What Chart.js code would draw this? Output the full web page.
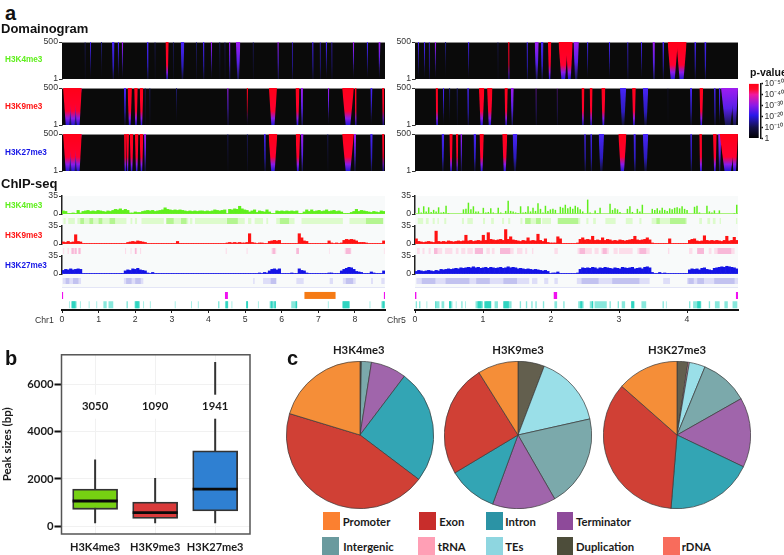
<!DOCTYPE html>
<html>
<head>
<meta charset="utf-8">
<title>Histone marks on chromosomes 1 and 5</title>
<script src="https://cdn.jsdelivr.net/npm/chart.js"></script>
<style>
    body { margin: 0; background: #fff; }
    #page { position: relative; width: 784px; height: 555px; overflow: hidden; }
    #page canvas { position: absolute; }
    .txt { position: absolute; white-space: nowrap; line-height: 1; transform: translateY(-50%); }
    .head { font: bold 13px "Liberation Sans"; color: #111; }
    .letter { font: bold 20px "Liberation Sans"; color: #111; }
    .track { font: bold 8.2px "Liberation Sans"; }
    .chr { font: 8.7px "Liberation Sans"; color: #333; }
    .cal { font: bold 11.3px Lato; color: #1A1A1A; }
    .swatch { position: absolute; width: 16.5px; height: 17.5px; }
</style>
</head>
<body>
<div id="page"></div>
<script>
// Genome axes, in Mb
const chr1Max = 8.82;
const chr5Max = 4.75;
const k4Color = '#5FEF1C';
const k9Color = '#FF1212';
const k27Color = '#1414E6';

// Domainogram streaks: [position Mb, width Mb, strength 1-4]
const domK4Chr1 = [[.63,.03,1],[.78,.03,2],[1.08,.03,1],[1.40,.07,2],[1.54,.04,2],[1.65,.04,3],[2.34,.05,2],[2.54,.03,1],[2.87,.09,4],[3.04,.03,1],[3.29,.1,2],[3.67,.03,1],[3.87,.04,2],[4.08,.04,3],[4.31,.03,1],[4.45,.03,1],[4.58,.04,3],[4.81,.12,3],[5.22,.03,1],[5.90,.04,3],[6.29,.03,2],[6.85,.04,2],[7.05,.03,2],[7.22,.04,2],[7.37,.03,2],[7.96,.04,3],[8.34,.04,2],[8.67,.06,3]];
const domK9Chr1 = [[.29,.5,3],[.15,.24,4],[.30,.22,4],[.44,.2,4],[1.72,.06,2],[1.85,.12,4],[2.02,.1,4],[2.17,.1,4],[2.27,.03,1],[2.4,.03,1],[3.13,.03,1],[4.53,.04,3],[5.06,.04,4],[5.76,.22,4],[6.43,.11,4],[6.55,.06,3],[7.28,.04,3],[7.81,.32,4],[8.02,.05,4],[8.45,.06,2],[8.77,.06,4]];
const domK27Chr1 = [[.29,.5,3],[.15,.24,4],[.30,.22,4],[.44,.2,4],[1.72,.05,4],[1.79,.08,4],[1.9,.1,4],[2.04,.1,4],[2.17,.1,4],[2.27,.06,3],[4.53,.03,1],[5.06,.03,1],[5.54,.05,2],[5.76,.24,4],[6.44,.12,4],[6.56,.07,3],[7.26,.03,1],[7.81,.32,4],[8.0,.06,3],[8.45,.07,2],[8.77,.06,4]];
const domK4Chr5 = [[.05,.018,2],[.14,.02,2],[.21,.018,2],[.30,.02,3],[.45,.018,1],[.79,.02,2],[1.22,.015,1],[1.38,.022,4],[1.65,.02,2],[1.79,.06,3],[1.87,.04,2],[1.98,.05,4],[2.18,.14,4],[2.27,.1,4],[2.37,.08,3],[2.54,.02,2],[2.86,.02,2],[3.13,.018,2],[3.33,.018,2],[3.51,.035,3],[3.65,.025,2],[3.79,.15,4],[3.92,.15,4],[4.12,.025,2],[4.27,.03,2]];
const domK9Chr5 = [[.32,.035,4],[.42,.02,2],[.51,.018,1],[.62,.018,1],[.78,.025,2],[.98,.08,4],[1.10,.08,4],[1.34,.05,4],[1.43,.045,3],[1.78,.015,3],[2.09,.012,3],[2.47,.045,4],[2.59,.045,4],[2.77,.06,4],[3.06,.09,2],[3.22,.055,4],[3.39,.08,2],[3.72,.01,1],[4.06,.03,2],[4.21,.055,4],[4.41,.025,2],[4.48,.025,2],[4.60,.2,3],[4.70,.1,3]];
const domK27Chr5 = [[.41,.04,2],[.53,.05,4],[.62,.035,4],[.68,.025,3],[.88,.04,2],[.98,.065,4],[1.32,.075,4],[1.47,.07,2],[2.5,.025,2],[2.59,.025,2],[2.74,.08,2],[3.05,.12,4],[3.23,.035,2],[3.39,.08,2],[4.06,.025,2],[4.2,.04,4],[4.41,.055,4],[4.48,.045,3],[4.6,.24,4],[4.7,.1,4]];

// ChIP-seq coverage, 130 equal bins along each chromosome
const covK4Chr1 = [
    6,5,1,1,2,1,7,2,5,6, 7,5,6,5,7,6,5,4,6,5, 7,9,8,10,7,9,7,2,2,4,
    3,3,5,6,7,6,7,5,6,7, 8,12,9,8,7,8,7,8,7,6, 5,6,5,6,5,6,6,5,6,5,
    6,8,7,6,7,8,0,9,8,10, 9,15,10,8,7,4,6,8,3,6, 5,4,8,4,1,1,6,5,6,5,
    6,5,6,5,6,1,1,4,8,5, 8,5,6,7,5,6,8,5,6,7, 5,6,4,1,1,1,3,5,9,5,
    7,6,5,4,3,5,4,3,6,5];
const covK9Chr1 = [
    4,3,5,3,4,18,5,4,1,1, 1,1,1,1,1,1,1,1,1,1, 1,1,1,1,1,1,3,4,5,4,
    6,5,4,3,1,1,1,1,1,1, 1,1,1,1,1,1,5,1,1,1, 1,1,1,1,1,1,1,1,1,1,
    1,1,1,1,1,1,2,3,2,3, 2,3,2,2,3,20,3,2,1,2, 2,1,1,5,6,7,6,7,1,1,
    1,1,1,1,1,20,12,6,5,1, 1,1,1,1,1,1,1,6,2,1, 2,1,2,7,9,8,9,8,6,3,
    3,3,2,1,1,1,1,1,1,6];
const covK27Chr1 = [
    7,9,8,10,8,9,10,9,1,1, 1,1,1,1,1,1,1,1,1,1, 1,1,1,1,1,6,8,7,10,9,
    11,8,7,6,2,1,3,1,1,1, 1,1,1,1,1,1,1,1,1,1, 1,1,1,1,1,1,1,1,1,1,
    1,1,1,1,1,1,1,1,1,1, 1,1,1,1,1,1,1,1,1,2, 1,3,2,6,9,10,8,10,1,1,
    1,1,2,1,1,10,7,6,2,1, 1,1,1,1,1,1,1,2,2,1, 1,1,6,9,11,13,12,9,5,4,
    3,1,1,1,4,2,1,1,1,6];
const covK4Chr5 = [
    1,12,3,15,5,13,4,8,5,13, 3,4,16,2,1,1,1,1,1,9, 10,22,9,15,5,5,1,12,3,4,
    11,3,1,12,3,1,6,26,6,5, 3,2,15,3,4,15,5,12,6,21, 10,3,16,6,9,10,8,0,14,12,
    18,11,14,10,16,13,9,5,1,28, 3,1,7,2,12,1,1,1,20,8, 11,9,4,1,1,10,15,4,1,10,
    5,18,1,1,1,10,8,11,7,12, 8,6,11,9,12,13,11,15,10,8, 1,1,14,16,3,1,1,16,5,3,
    7,1,7,1,1,1,1,1,2,18];
const covK9Chr5 = [
    10,5,4,3,4,5,4,3,25,5, 4,5,4,6,5,4,5,6,5,6, 17,6,7,5,6,7,6,17,7,22,
    9,8,7,8,9,7,28,9,14,8, 7,6,5,7,6,12,6,7,6,19, 7,5,10,3,2,2,2,14,10,1,
    1,1,1,1,1,2,9,12,8,9, 8,15,7,8,7,12,7,9,8,6, 7,6,8,7,6,7,8,9,15,8,
    7,8,9,12,8,2,1,1,1,1, 1,1,10,1,1,1,1,1,1,1, 7,9,10,6,5,6,16,7,6,7,
    6,7,6,5,7,15,6,7,13,7];
const covK27Chr5 = [
    5,7,6,5,6,7,6,5,7,6, 9,8,9,10,9,10,11,10,12,11, 12,13,12,14,12,13,11,12,13,11,
    13,12,11,12,13,11,12,14,12,13, 12,10,11,10,9,10,9,8,9,8, 7,6,7,5,1,2,2,4,1,1,
    1,1,1,1,1,2,9,12,11,12, 11,13,12,10,12,11,13,12,11,10, 12,11,10,13,12,11,12,13,10,11,
    12,10,13,14,12,3,1,1,3,1, 2,1,1,1,1,1,1,1,1,1, 8,10,9,10,8,11,12,9,8,7,
    11,12,13,14,13,15,14,13,12,10];

// Called peaks, [start, end] in Mb
const peaksK4Chr1 = [[.04,.1],[.17,.35],[.42,1.76],[1.87,1.92],[1.99,2.05],[2.17,2.78],[2.85,3.45],[3.49,3.56],[3.63,4.49],[4.54,4.99],[5.08,5.17],[5.26,5.49],[5.58,5.63],[5.85,6.35],[6.54,7.67],[7.85,8.77]];
const peaksK9Chr1 = [[.03,.06],[.15,.19],[.26,.40],[.45,.52],[1.72,1.75],[1.87,1.9],[1.99,2.05],[2.13,2.16],[4.47,4.5],[5.04,5.07],[5.72,5.85],[6.4,6.47],[7.29,7.31],[7.72,7.9],[8.79,8.81]];
const peaksK27Chr1 = [[.02,.52],[1.69,2.22],[5.22,5.26],[5.49,5.85],[6.4,6.6],[7.31,7.4],[7.67,8.02],[8.44,8.49],[8.72,8.81]];
const peaksK4Chr5 = [[.04,.12],[.16,.2],[.26,.29],[.33,.35],[.43,.46],[.69,.72],[.77,.85],[1.0,1.03],[1.12,1.16],[1.28,1.31],[1.37,1.4],[1.55,1.58],[1.62,1.85],[1.87,2.0],[2.1,2.43],[2.52,2.55],[2.62,2.66],[2.8,2.95],[3.1,3.2],[3.3,3.33],[3.48,3.8],[3.85,4.0],[4.18,4.22],[4.3,4.34],[4.38,4.42],[4.48,4.5],[4.72,4.74]];
const peaksK9Chr5 = [[.03,.07],[.11,.14],[.2,.23],[.28,.4],[.44,.55],[.6,.64],[.68,.74],[.77,.85],[.88,1.0],[1.05,1.1],[1.13,1.17],[1.25,1.45],[1.5,1.58],[1.62,1.65],[1.72,1.74],[2.05,2.1],[2.39,2.6],[2.64,2.7],[2.74,2.85],[2.92,2.98],[3.0,3.2],[3.27,3.45],[3.72,3.74],[4.03,4.08],[4.15,4.25],[4.32,4.36],[4.4,4.7]];
const peaksK27Chr5 = [[.02,1.68],[1.72,1.8],[1.9,1.96],[2.05,2.1],[2.38,3.45],[3.65,3.75],[4.0,4.75]];

// Stretches where called peaks pile up and read darker
const denseK4Chr1 = [[.5,.6],[.75,.85],[1.0,1.1],[1.3,1.45],[2.85,3.05],[3.25,3.4],[4.5,4.8],[5.95,6.2],[8.3,8.77]];
const denseK9Chr1 = [[.26,.32],[.35,.40],[.45,.5],[1.99,2.03],[5.75,5.82],[6.4,6.47],[7.75,7.88]];
const denseK27Chr1 = [[.1,.2],[.3,.45],[1.75,1.9],[2.0,2.15],[5.7,5.85],[7.75,7.95]];
const denseK4Chr5 = [[1.62,1.7],[1.78,1.85],[2.1,2.4],[3.55,3.6],[3.75,3.98]];
const denseK9Chr5 = [[.28,.33],[.88,1.0],[1.25,1.4],[2.42,2.5],[2.76,2.82],[3.3,3.4],[4.15,4.25],[4.45,4.65]];
const denseK27Chr5 = [[.1,.3],[.45,.8],[.9,1.1],[1.3,1.5],[2.45,2.7],[2.9,3.3],[4.02,4.1],[4.15,4.25],[4.4,4.7]];

// Annotation rows under the tracks
const geneMarksChr1 = [[.03,.05],[.19,.21],[.25,.4],[.49,.51],[.58,.6],[.73,.75],[.94,.96],[1.13,1.22],[1.27,1.4],[1.53,1.55],[1.76,1.8],[1.89,1.91],[1.98,2.13],[2.22,2.24],[2.4,2.42],[2.54,2.56],[2.76,2.78],[3.08,3.1],[3.31,3.33],[3.53,3.55],[3.71,3.73],[3.8,3.82],[4.26,4.3],[4.45,4.54],[4.63,4.65],[5.03,5.08],[5.35,5.37],[5.67,5.84],[6.26,6.42],[6.8,6.82],[7.05,7.07],[7.26,7.28],[7.65,7.85],[8.14,8.16],[8.4,8.42],[8.72,8.81]];
const geneMarksChr5 = [[.01,.03],[.06,.08],[.17,.18],[.3,.36],[.39,.43],[.5,.55],[.6,.61],[.68,.7],[.74,.75],[.89,1.0],[1.04,1.12],[1.17,1.22],[1.3,1.42],[1.54,1.56],[1.63,1.65],[1.71,1.73],[1.77,1.79],[1.88,1.9],[2.05,2.09],[2.18,2.2],[2.4,2.48],[2.57,2.62],[2.64,2.82],[2.86,2.88],[2.98,3.0],[3.04,3.09],[3.18,3.23],[3.33,3.4],[3.64,3.66],[3.69,3.7],[4.03,4.05],[4.09,4.21],[4.32,4.34],[4.41,4.48],[4.55,4.6],[4.67,4.74]];
const geneDenseChr1 = [[.27,.37],[2.0,2.1],[4.47,4.53],[5.03,5.08],[5.7,5.75],[5.8,5.84],[6.38,6.42],[7.67,7.85],[8.75,8.81]];
const geneDenseChr5 = [[.3,.31],[.5,.53],[.92,.98],[1.02,1.12],[1.3,1.38],[2.43,2.46],[2.6,2.62],[3.18,3.22],[4.15,4.2]];
const centroChr1 = [[0,.03],[4.45,4.53],[8.79,8.82]];
const centroChr5 = [[0,.02],[2.04,2.09],[4.72,4.75]];
const orangeChr1 = [[6.62,7.47]];
const orangeChr5 = [];

// Colour bar
const pValueSteps = [0, 10, 20, 30, 40, 50];
const pValueLabels = ['1', '10⁻¹⁰', '10⁻²⁰', '10⁻³⁰', '10⁻⁴⁰', '10⁻⁵⁰'];

// Box plot
const boxNames = ['H3K4me3', 'H3K9me3', 'H3K27me3'];
const boxFills = ['#76D112', '#D93A3A', '#2F80D2'];
const whiskerLow = [125, 125, 125];
const boxQ1 = [713, 323, 646];
const boxMedian = [1066, 575, 1570];
const boxQ3 = [1570, 1024, 3190];
const whiskerHigh = [2828, 2044, 6950];
const peakCounts = [3050, 1090, 1941];
const peakCountAt = 5060;

// Pies, percentages clockwise from 12 o'clock
const pieTitles = ['H3K4me3', 'H3K9me3', 'H3K27me3'];
const pieLabels = ['Duplication', 'rDNA', 'tRNA', 'TEs', 'Intergenic', 'Terminator', 'Intron', 'Exon', 'Promoter'];
const pieColors = ['#635F4E', '#F5695A', '#F59BB3', '#9ADFE8', '#7BA9AB', '#A065AB', '#33A5B4', '#D04035', '#F58E38'];
const pieK4 = [.3, 0, 0, 0, 2.2, 7.8, 25, 44.4, 20.3];
const pieK9 = [5.8, 0, 0, 15.7, 20.2, 13.9, 10.8, 24.7, 8.9];
const pieK27 = [2.4, 0, .3, 3.5, 10.6, 15.3, 19.2, 35.2, 13.5];

const page = document.getElementById('page');

Chart.defaults.animation = false;
Chart.defaults.responsive = false;
Chart.defaults.maintainAspectRatio = false;
Chart.defaults.plugins.legend.display = false;
Chart.defaults.plugins.tooltip.enabled = false;
Chart.defaults.font.family = '"Liberation Sans"';

// Plot area fill and edge lines
const plotFrame = {
    id: 'plotFrame',
    beforeDatasetsDraw(chart, args, opts) {
        const { ctx, chartArea: a } = chart;
        ctx.save();
        if (opts.fill) {
            ctx.fillStyle = opts.fill;
            ctx.fillRect(a.left, a.top, a.width, a.height);
        }
        if (opts.topLine) {
            ctx.fillStyle = opts.topLine;
            ctx.fillRect(a.left, a.top, a.width, 1);
        }
        if (opts.baseLine) {
            ctx.fillStyle = opts.baseLine;
            ctx.fillRect(a.left, a.bottom - 1, a.width, 1);
        }
        ctx.restore();
    },
    afterDraw(chart, args, opts) {
        if (!opts.box) return;
        const { ctx, chartArea: a } = chart;
        ctx.save();
        ctx.strokeStyle = opts.box;
        ctx.lineWidth = 1.5;
        ctx.strokeRect(a.left, a.top, a.width, a.height);
        ctx.restore();
    }
};

// Canvas placed so that the plot area lands on the given box
function placeChart(box, config) {
    const { x, y, w, h, left = 0, top = 0, right = 0, bottom = 0 } = box;
    const canvas = document.createElement('canvas');
    canvas.width = Math.round(w + left + right);
    canvas.height = Math.round(h + top + bottom);
    canvas.style.left = (x - left) + 'px';
    canvas.style.top = (y - top) + 'px';
    if (box.blur) canvas.style.filter = `blur(${box.blur}px)`;
    page.appendChild(canvas);

    const scales = config.options.scales;
    const yShown = scales && scales.y && scales.y.display !== false;
    const xShown = scales && scales.x && scales.x.display !== false;
    const yOnRight = yShown && scales.y.position === 'right';
    if (yShown) scales.y.afterFit = s => { s.width = yOnRight ? right : left; };
    if (xShown) scales.x.afterFit = s => { s.height = bottom; };
    config.options.layout = {
        padding: {
            left: yShown && !yOnRight ? 0 : left,
            top,
            right: yOnRight ? 0 : right,
            bottom: xShown ? 0 : bottom
        }
    };
    config.plugins = (config.plugins || []).concat(plotFrame);
    return new Chart(canvas, config);
}

function addText(text, x, y, cls, color) {
    const el = document.createElement('div');
    el.className = 'txt ' + cls;
    el.textContent = text;
    el.style.left = x + 'px';
    el.style.top = y + 'px';
    if (color) el.style.color = color;
    page.appendChild(el);
    return el;
}

function addCentered(text, cx, y, cls) {
    const el = addText(text, cx, y, cls);
    el.style.transform = 'translate(-50%, -50%)';
}

function streakGradient(chart, level) {
    const a = chart.chartArea;
    if (!a) return '#222';
    const g = chart.ctx.createLinearGradient(0, a.top, 0, a.bottom);
    if (level === 4) {
        g.addColorStop(0, '#FF0018');
        g.addColorStop(.62, '#FF0030');
        g.addColorStop(.82, '#8A1CE8');
        g.addColorStop(1, '#2418D0');
    } else if (level === 3) {
        g.addColorStop(0, '#A01CF0');
        g.addColorStop(.55, '#5820E8');
        g.addColorStop(1, '#181850');
    } else if (level === 2) {
        g.addColorStop(0, '#4824F8');
        g.addColorStop(.65, '#2C1CBC');
        g.addColorStop(1, '#121234');
    } else {
        g.addColorStop(0, '#221E84');
        g.addColorStop(1, '#0E0E1C');
    }
    return g;
}

function domainChart(x, y, w, h, maxMb, streaks) {
    const datasets = streaks.map(([pos, width, level]) => ({
        data: [
            { x: pos - width / 2, y: 500 },
            { x: pos - width * .2, y: 1 },
            { x: pos + width * .2, y: 1 },
            { x: pos + width / 2, y: 500 }
        ],
        showLine: true,
        pointRadius: 0,
        borderWidth: 0,
        fill: { value: 500 },
        backgroundColor: ctx => streakGradient(ctx.chart, level),
        order: -level
    }));
    placeChart({ x, y, w, h, left: 26, top: 7, right: 2, bottom: 7, blur: .45 }, {
        type: 'scatter',
        data: { datasets },
        options: {
            scales: {
                x: { type: 'linear', display: false, min: 0, max: maxMb },
                y: {
                    min: 1, max: 500,
                    afterBuildTicks: s => { s.ticks = [{ value: 1 }, { value: 500 }]; },
                    grid: { drawOnChartArea: false, tickLength: 3, tickColor: '#333' },
                    border: { color: '#777', width: 1 },
                    ticks: { color: '#333', padding: 1, font: { size: 8.7 } }
                }
            },
            plugins: { plotFrame: { fill: '#0A0A0A', topLine: '#8A8A8A' } }
        }
    });
}

function coverageChart(x, y, w, h, values, color, baseLine, barShare) {
    placeChart({ x, y, w, h, left: 26, top: 7, right: 2, bottom: 7 }, {
        type: 'bar',
        data: {
            labels: values.map((v, i) => i),
            datasets: [{
                data: values,
                backgroundColor: color,
                categoryPercentage: 1,
                barPercentage: barShare || 1
            }]
        },
        options: {
            scales: {
                x: { display: false },
                y: {
                    min: 0, max: 35,
                    afterBuildTicks: s => { s.ticks = [{ value: 0 }, { value: 35 }]; },
                    grid: { drawOnChartArea: false, tickLength: 3, tickColor: '#333' },
                    border: { color: '#222', width: 1.5 },
                    ticks: { color: '#333', padding: 1, font: { size: 8.7 } }
                }
            },
            plugins: { plotFrame: { baseLine } }
        }
    });
}

// Runs of [start, end] drawn as one thick broken line
function runsToLine(runs, row) {
    const pts = [];
    runs.forEach(([a, b]) => {
        pts.push({ x: a, y: row }, { x: b, y: row }, { x: NaN, y: NaN });
    });
    return pts;
}

function stripChart(x, y, w, h, maxMb, runs, dense, color, denseColor) {
    const row = (list, c) => ({
        data: runsToLine(list, 0),
        showLine: true, pointRadius: 0, spanGaps: false,
        borderColor: c, borderWidth: h, borderCapStyle: 'butt'
    });
    placeChart({ x, y, w, h }, {
        type: 'scatter',
        data: { datasets: [row(dense, denseColor), row(runs, color)] },
        options: {
            scales: {
                x: { type: 'linear', display: false, min: 0, max: maxMb },
                y: { display: false, min: -1, max: 1 }
            }
        }
    });
}

function annotationChart(x, maxMb, centro, orange, genes, geneDense) {
    const row = (runs, y, color, width) => ({
        data: runsToLine(runs, y),
        showLine: true, pointRadius: 0, spanGaps: false, clip: false,
        borderColor: color, borderWidth: width, borderCapStyle: 'butt'
    });
    placeChart({ x, y: 287, w: 323, h: 23, left: 8, right: 8, bottom: 16 }, {
        type: 'scatter',
        data: {
            datasets: [
                row([[0, maxMb]], 0, '#C8CCEE', 1),
                row(centro, 1.1, '#F010F0', 7),
                row(orange, 1.1, '#F57A14', 7),
                row(geneDense, 2.3, '#30D4C0', 7),
                row(genes, 2.3, '#88E8DC', 7)
            ]
        },
        options: {
            scales: {
                x: {
                    type: 'linear', min: 0, max: maxMb,
                    grid: { drawOnChartArea: false, tickLength: 3, tickColor: '#222' },
                    border: { color: '#111', width: 2 },
                    ticks: { stepSize: 1, includeBounds: false, color: '#333', padding: 1, maxRotation: 0, font: { size: 8.7 } }
                },
                y: { display: false, reverse: true, min: 0, max: 3 }
            }
        }
    });
}

// Panel a: domainograms
const leftX = 62, rightX = 415, trackW = 323;
domainChart(leftX, 41.5, trackW, 36.5, chr1Max, domK4Chr1);
domainChart(leftX, 87.5, trackW, 36.5, chr1Max, domK9Chr1);
domainChart(leftX, 134, trackW, 36.5, chr1Max, domK27Chr1);
domainChart(rightX, 41.5, trackW, 36.5, chr5Max, domK4Chr5);
domainChart(rightX, 87.5, trackW, 36.5, chr5Max, domK9Chr5);
domainChart(rightX, 134, trackW, 36.5, chr5Max, domK27Chr5);

// Colour bar
placeChart({ x: 749, y: 83, w: 12, h: 56, top: 6, right: 24, bottom: 6 }, {
    type: 'bar',
    data: {
        labels: ['p'],
        datasets: [{
            data: [{ x: .39, y: pValueSteps[pValueSteps.length - 1] }],
            barThickness: 9.4,
            backgroundColor: ctx => {
                const a = ctx.chart.chartArea;
                if (!a) return '#000';
                const g = ctx.chart.ctx.createLinearGradient(0, a.bottom, 0, a.top);
                g.addColorStop(0, '#000000');
                g.addColorStop(.2, '#14104A');
                g.addColorStop(.42, '#2A18E8');
                g.addColorStop(.6, '#8A18E8');
                g.addColorStop(.8, '#F018A0');
                g.addColorStop(.9, '#FF0A28');
                g.addColorStop(1, '#FF0018');
                return g;
            }
        }]
    },
    options: {
        scales: {
            x: { type: 'linear', display: false, offset: false, min: 0, max: 1 },
            y: {
                type: 'linear', position: 'right', min: 0, max: 50,
                afterBuildTicks: s => { s.ticks = pValueSteps.map(v => ({ value: v })); },
                grid: { drawOnChartArea: false, tickLength: 2, tickColor: '#111', tickWidth: 1.5 },
                border: { color: '#111', width: 1.5 },
                ticks: {
                    padding: 1.5, color: '#333', font: { size: 8.7 }, autoSkip: false,
                    callback: v => pValueLabels[pValueSteps.indexOf(v)]
                }
            }
        }
    }
});

// Panel a: ChIP-seq
const tintTop = 196, tintH = 91;
[leftX, rightX].forEach(x => {
    const tint = document.createElement('div');
    tint.style.cssText = `position:absolute;left:${x}px;top:${tintTop}px;width:${trackW}px;height:${tintH}px;background:#F8FAFA`;
    page.appendChild(tint);
});

coverageChart(leftX, 196, trackW, 18.3, covK4Chr1, k4Color, '#A8F27C');
coverageChart(leftX, 226, trackW, 18.3, covK9Chr1, k9Color, '#FF8A8A');
coverageChart(leftX, 256, trackW, 18.3, covK27Chr1, k27Color, '#8C8CF0');
coverageChart(rightX, 196, trackW, 18.3, covK4Chr5, k4Color, '#A8F27C', .6);
coverageChart(rightX, 226, trackW, 18.3, covK9Chr5, k9Color, '#FF8A8A');
coverageChart(rightX, 256, trackW, 18.3, covK27Chr5, k27Color, '#8C8CF0');

stripChart(leftX, 218, trackW, 6, chr1Max, peaksK4Chr1, denseK4Chr1, '#DDFBCC', '#B4F590');
stripChart(leftX, 248, trackW, 6, chr1Max, peaksK9Chr1, denseK9Chr1, '#FCDDEA', '#F8B8D8');
stripChart(leftX, 278, trackW, 6, chr1Max, peaksK27Chr1, denseK27Chr1, '#DEDEF8', '#C2C2F0');
stripChart(rightX, 218, trackW, 6, chr5Max, peaksK4Chr5, denseK4Chr5, '#DDFBCC', '#B4F590');
stripChart(rightX, 248, trackW, 6, chr5Max, peaksK9Chr5, denseK9Chr5, '#FCDDEA', '#F8B8D8');
stripChart(rightX, 278, trackW, 6, chr5Max, peaksK27Chr5, denseK27Chr5, '#DEDEF8', '#C2C2F0');

annotationChart(leftX, chr1Max, centroChr1, orangeChr1, geneMarksChr1, geneDenseChr1);
annotationChart(rightX, chr5Max, centroChr5, orangeChr5, geneMarksChr5, geneDenseChr5);

// Panel b: box plot
const boxHalf = .375;
const boxLines = [];
boxNames.forEach((name, i) => {
    boxLines.push({
        type: 'line', order: 2,
        data: [{ x: i, y: whiskerLow[i] }, { x: i, y: whiskerHigh[i] }],
        borderColor: '#333', borderWidth: 2, pointRadius: 0
    });
    boxLines.push({
        type: 'line', order: 0,
        data: [{ x: i - boxHalf, y: boxMedian[i] }, { x: i + boxHalf, y: boxMedian[i] }],
        borderColor: '#0A0A0A', borderWidth: 2.8, pointRadius: 0
    });
});

const countLabels = {
    id: 'countLabels',
    afterDatasetsDraw(chart) {
        const { ctx, scales } = chart;
        ctx.save();
        ctx.font = 'bold 11.3px Lato';
        ctx.textAlign = 'center';
        ctx.textBaseline = 'middle';
        peakCounts.forEach((count, i) => {
            const px = scales.x.getPixelForValue(i);
            const py = scales.y.getPixelForValue(peakCountAt);
            ctx.fillStyle = '#fff';
            ctx.fillRect(px - 16, py - 12, 32, 24);
            ctx.fillStyle = '#1A1A1A';
            ctx.fillText(String(count), px, py);
        });
        ctx.restore();
    }
};

placeChart({ x: 61.5, y: 352.7, w: 188, h: 181, left: 61.5, top: 6, right: 10, bottom: 21 }, {
    type: 'bar',
    plugins: [countLabels],
    data: {
        datasets: [{
            order: 1,
            data: boxNames.map((name, i) => ({ x: i, y: [boxQ1[i], boxQ3[i]] })),
            backgroundColor: boxFills,
            borderColor: '#333',
            borderWidth: 1.8,
            borderSkipped: false,
            barThickness: 45
        }].concat(boxLines)
    },
    options: {
        scales: {
            x: {
                type: 'linear', min: -.56, max: 2.58, offset: false,
                afterBuildTicks: s => { s.ticks = boxNames.map((n, i) => ({ value: i })); },
                grid: { color: '#F1F1F1', drawTicks: false, offset: false },
                border: { display: false },
                ticks: {
                    padding: 7, color: '#1A1A1A', maxRotation: 0, autoSkip: false,
                    font: { family: 'Lato', weight: 'bold', size: 11 },
                    callback: v => boxNames[v]
                }
            },
            y: {
                min: -333, max: 7260,
                afterBuildTicks: s => { s.ticks = [0, 2000, 4000, 6000].map(v => ({ value: v })); },
                grid: { color: '#F1F1F1', tickColor: '#111', tickLength: 7, tickWidth: 2 },
                border: { display: false },
                title: {
                    display: true, text: 'Peak sizes (bp)', color: '#1A1A1A', padding: 0,
                    font: { family: 'Lato', weight: 'bold', size: 11.5 }
                },
                ticks: {
                    padding: 1, color: '#1A1A1A',
                    font: { family: 'Lato', weight: 'bold', size: 11.3 },
                    callback: v => String(v)
                }
            }
        },
        plugins: { plotFrame: { box: '#555' } }
    }
});

// Panel c: pies
function pieChart(cx, cy, values) {
    const size = 148;
    placeChart({ x: cx - size / 2, y: cy - size / 2, w: size, h: size }, {
        type: 'pie',
        data: {
            labels: pieLabels,
            datasets: [{
                data: values,
                backgroundColor: pieColors,
                borderColor: '#3A3A3A',
                borderWidth: .7
            }]
        },
        options: {}
    });
}
pieChart(360, 435, pieK4);
pieChart(518.3, 435, pieK9);
pieChart(677.3, 435, pieK27);

addCentered(pieTitles[0], 358.7, 349, 'cal');
addCentered(pieTitles[1], 518, 349, 'cal');
addCentered(pieTitles[2], 677, 349, 'cal');

// Legend for the pies
function legendItem(name, color, sx, sy, tx) {
    const s = document.createElement('div');
    s.className = 'swatch';
    s.style.left = sx + 'px';
    s.style.top = sy + 'px';
    s.style.background = color;
    page.appendChild(s);
    addText(name, tx, sy + 9, 'cal');
}
legendItem('Promoter', '#FB8030', 323.3, 512.3, 342.7);
legendItem('Exon', '#C82D2B', 419.3, 512.3, 439.3);
legendItem('Intron', '#2B93A5', 486, 512.3, 505.3);
legendItem('Terminator', '#8E4A9A', 556.7, 512.3, 576);
legendItem('Intergenic', '#6A9A9E', 322.3, 537, 343.3);
legendItem('tRNA', '#FF9FB5', 418.3, 537, 437.7);
legendItem('TEs', '#8ED6E0', 486, 537, 505.3);
legendItem('Duplication', '#4D4D3A', 556.7, 537, 576);
legendItem('rDNA', '#F86C5C', 663.3, 537, 681.7);

// Titles and track labels
addText('a', 5, 13, 'letter');
addText('b', 5, 358, 'letter');
addText('c', 287, 358, 'letter');
addText('Domainogram', 1, 28, 'head');
addText('ChIP-seq', 1, 183, 'head');
addText('p-value', 750, 72, 'head').style.fontSize = '10.5px';
addText('H3K4me3', 5, 59, 'track', k4Color);
addText('H3K9me3', 5, 105.5, 'track', k9Color);
addText('H3K27me3', 5, 152, 'track', k27Color);
addText('H3K4me3', 5, 204.5, 'track', k4Color);
addText('H3K9me3', 5, 235, 'track', k9Color);
addText('H3K27me3', 5, 265, 'track', k27Color);
addText('Chr1', 35, 319.5, 'chr');
addText('Chr5', 387, 319.5, 'chr');
</script>
</body>
</html>
